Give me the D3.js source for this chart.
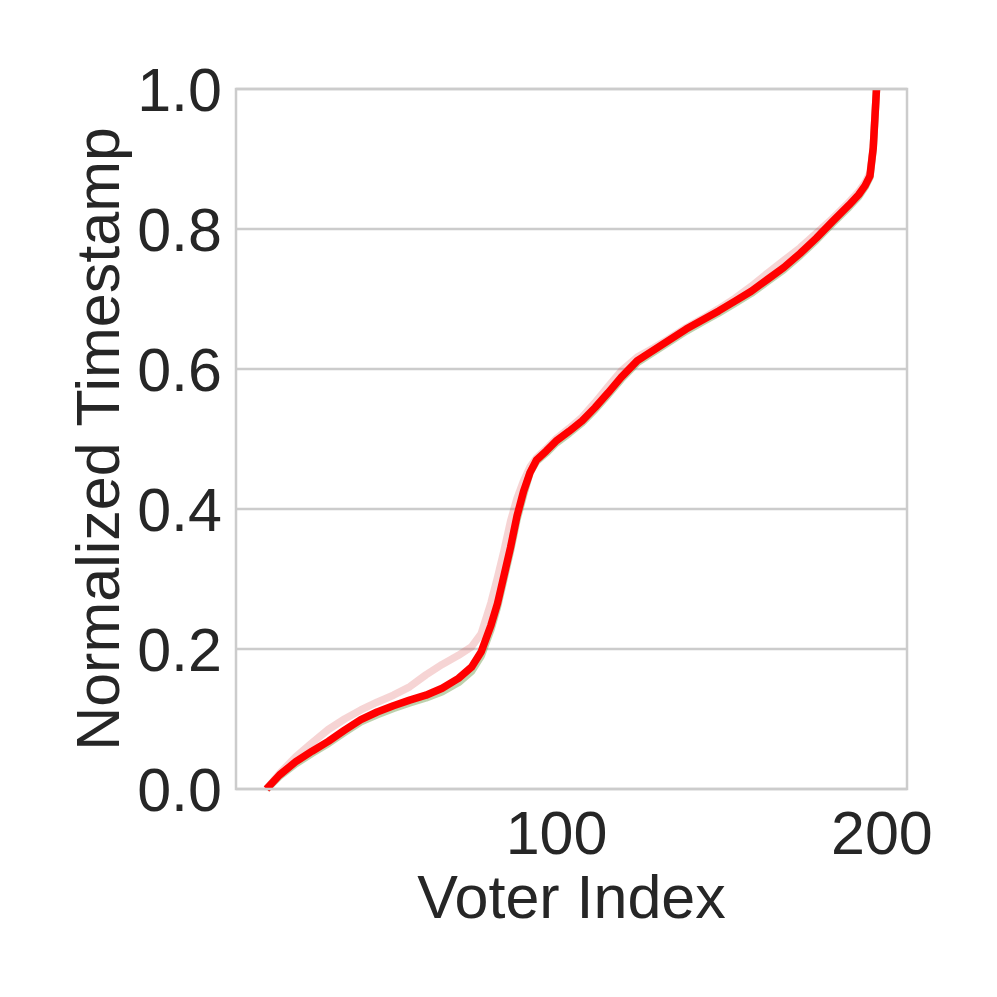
<!DOCTYPE html>
<html>
<head>
<meta charset="utf-8">
<script src="https://cdn.jsdelivr.net/npm/d3@7"></script>
<style>
  body { margin: 0; background: #fff; }
</style>
</head>
<body>
<svg id="chart"></svg>
<script>
// voter index (x) shared by all three runs
var voterIdx = [11, 15, 20, 25, 30, 35, 40, 45, 50, 55, 60, 65, 70, 74, 77, 80, 82, 84, 86, 88, 90, 92, 94, 97, 100,
  104, 108, 112, 116, 120, 125, 130, 135, 140, 145, 150, 155, 160, 165, 170, 175, 180, 185, 190, 193, 195, 196.5, 197.5, 198.5];

// normalized timestamps
var tsGreen = [0, 0.018, 0.036, 0.051, 0.065, 0.081, 0.096, 0.106, 0.115, 0.123, 0.130, 0.139, 0.152, 0.168, 0.190, 0.228, 0.260, 0.300, 0.340, 0.385, 0.420, 0.452, 0.468, 0.480, 0.494,
  0.508, 0.523, 0.542, 0.563, 0.585, 0.609, 0.624, 0.639, 0.654, 0.667, 0.680, 0.694, 0.708, 0.725, 0.742, 0.762, 0.784, 0.808, 0.831, 0.846, 0.860, 0.874, 0.915, 1.0];
var tsPink = [0, 0.022, 0.046, 0.066, 0.085, 0.100, 0.113, 0.124, 0.134, 0.146, 0.163, 0.178, 0.191, 0.203, 0.222, 0.266, 0.302, 0.340, 0.382, 0.415, 0.440, 0.460, 0.473, 0.486, 0.500,
  0.515, 0.531, 0.552, 0.575, 0.597, 0.617, 0.630, 0.644, 0.659, 0.672, 0.686, 0.701, 0.718, 0.737, 0.755, 0.773, 0.794, 0.815, 0.838, 0.853, 0.866, 0.880, 0.917, 1.0];
var tsRed = [0, 0.020, 0.039, 0.054, 0.068, 0.084, 0.099, 0.110, 0.119, 0.127, 0.134, 0.144, 0.158, 0.174, 0.196, 0.234, 0.265, 0.305, 0.345, 0.390, 0.425, 0.452, 0.470, 0.483, 0.497,
  0.511, 0.526, 0.545, 0.566, 0.588, 0.612, 0.627, 0.642, 0.657, 0.670, 0.683, 0.697, 0.711, 0.728, 0.745, 0.765, 0.787, 0.811, 0.834, 0.849, 0.862, 0.876, 0.916, 1.0];

var xTicks = [100, 200];
var yTicks = [0, 0.2, 0.4, 0.6, 0.8, 1.0];

var w = 997, h = 997;
var mLeft = 236, mRight = 907, mTop = 89, mBottom = 789;
var font = "'Liberation Sans', Arial, sans-serif";
var textColor = '#262626';
var gridColor = '#cccccc';

var svg = d3.select('#chart')
    .attr('width', w)
    .attr('height', h)
    .attr('font-family', font);

// matplotlib-style 5% margins on x
var xMin = d3.min(voterIdx), xMax = d3.max(voterIdx);
var pad = (xMax - xMin) * 0.05;
var x = d3.scaleLinear().domain([xMin - pad, xMax + pad]).range([mLeft, mRight]);
var y = d3.scaleLinear().domain([0, 1]).range([mBottom, mTop]);

// horizontal grid
svg.append('g')
  .selectAll('line')
  .data(yTicks)
  .enter()
  .append('line')
  .attr('x1', mLeft).attr('x2', mRight)
  .attr('y1', function(d) { return y(d); })
  .attr('y2', function(d) { return y(d); })
  .attr('stroke', gridColor)
  .attr('stroke-width', 2.5);

// lines
var line = d3.line()
    .x(function(d) { return x(d[0]); })
    .y(function(d) { return y(d[1]); })
    .curve(d3.curveLinear);

var series = [
  { vals: tsGreen, color: 'rgba(90,140,50,0.4)' },
  { vals: tsPink, color: 'rgba(215,60,60,0.22)' },
  { vals: tsRed, color: '#ff0000' }
];

svg.append('g')
  .selectAll('path')
  .data(series)
  .enter()
  .append('path')
  .attr('d', function(s) { return line(voterIdx.map(function(v, i) { return [v, s.vals[i]]; })); })
  .attr('fill', 'none')
  .attr('stroke', function(s) { return s.color; })
  .attr('stroke-width', 7.5)
  .attr('stroke-linejoin', 'round');

// frame
svg.append('rect')
  .attr('x', mLeft).attr('y', mTop)
  .attr('width', mRight - mLeft).attr('height', mBottom - mTop)
  .attr('fill', 'none')
  .attr('stroke', gridColor)
  .attr('stroke-width', 2.5);

// axes (labels only, no tick marks)
var xAxis = svg.append('g')
  .attr('transform', 'translate(0,' + mBottom + ')')
  .call(d3.axisBottom(x).tickValues(xTicks).tickFormat(d3.format('d')).tickSize(0).tickPadding(22));
var yAxis = svg.append('g')
  .attr('transform', 'translate(' + mLeft + ',0)')
  .call(d3.axisLeft(y).tickValues(yTicks).tickFormat(d3.format('.1f')).tickSize(0).tickPadding(14));

[xAxis, yAxis].forEach(function(g) {
  g.select('.domain').remove();
  g.selectAll('text')
    .attr('font-family', font)
    .attr('font-size', 61)
    .attr('fill', textColor);
});
yAxis.selectAll('text').attr('dy', '0.36em');

// axis titles
svg.append('text')
  .attr('x', (mLeft + mRight) / 2)
  .attr('y', 918)
  .attr('text-anchor', 'middle')
  .attr('font-size', 61)
  .attr('fill', textColor)
  .text('Voter Index');

svg.append('text')
  .attr('transform', 'translate(119,' + ((mTop + mBottom) / 2) + ') rotate(-90)')
  .attr('text-anchor', 'middle')
  .attr('font-size', 61)
  .attr('fill', textColor)
  .text('Normalized Timestamp');
</script>
</body>
</html>
